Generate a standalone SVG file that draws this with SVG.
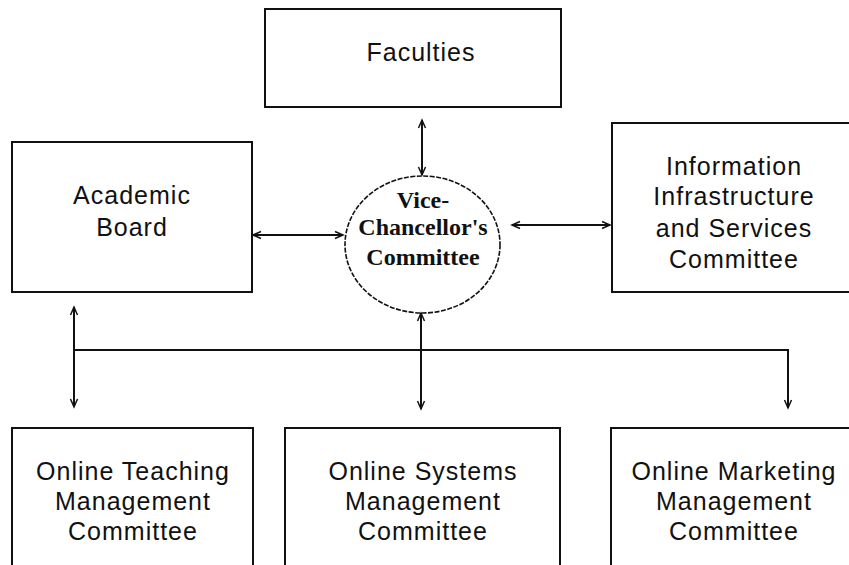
<svg xmlns="http://www.w3.org/2000/svg" width="849" height="565" viewBox="0 0 849 565">
  <style>
    .box { fill: #fff; stroke: #111; stroke-width: 2; }
    .hub { fill: #fff; stroke: #111; stroke-width: 1.6; stroke-dasharray: 5 1.5; }
    .lbl { font-family: "Liberation Sans", Arial, sans-serif; font-size: 25px; letter-spacing: 1px; fill: #111; text-anchor: middle; }
    .hubl { font-family: "Liberation Serif", "Times New Roman", serif; font-size: 24px; font-weight: bold; fill: #111; text-anchor: middle; }
    .wire { fill: none; stroke: #111; stroke-width: 2; }
  </style>
  <defs>
    <marker id="tip" markerUnits="userSpaceOnUse" viewBox="-10 -6 12 12" refX="0" refY="0" markerWidth="12" markerHeight="12" orient="auto-start-reverse">
      <path d="M-8,-3.5 L0,0 L-8,3.5" fill="none" stroke="#111" stroke-width="1.5"/>
    </marker>
  </defs>
  <rect width="849" height="565" fill="#fff"/>

  <g id="faculties">
    <rect class="box" x="265" y="9" width="296" height="98"/>
    <text class="lbl" x="421" y="61">Faculties</text>
  </g>

  <g id="academic-board">
    <rect class="box" x="12" y="142" width="240" height="150"/>
    <text class="lbl" x="132" y="204">Academic</text>
    <text class="lbl" x="132" y="236">Board</text>
  </g>

  <g id="info-infrastructure">
    <rect class="box" x="612" y="123" width="250" height="169"/>
    <text class="lbl" x="734" y="175">Information</text>
    <text class="lbl" x="734" y="205">Infrastructure</text>
    <text class="lbl" x="734" y="237">and Services</text>
    <text class="lbl" x="734" y="268">Committee</text>
  </g>

  <g id="vice-chancellor">
    <ellipse class="hub" cx="422.5" cy="244.5" rx="77.5" ry="68.5"/>
    <text class="hubl" x="423" y="208">Vice-</text>
    <text class="hubl" x="423" y="235">Chancellor's</text>
    <text class="hubl" x="423" y="265">Committee</text>
  </g>

  <g id="online-teaching">
    <rect class="box" x="12" y="428" width="241" height="150"/>
    <text class="lbl" x="133" y="480">Online Teaching</text>
    <text class="lbl" x="133" y="510">Management</text>
    <text class="lbl" x="133" y="540">Committee</text>
  </g>

  <g id="online-systems">
    <rect class="box" x="285" y="428" width="275" height="150"/>
    <text class="lbl" x="423" y="480">Online Systems</text>
    <text class="lbl" x="423" y="510">Management</text>
    <text class="lbl" x="423" y="540">Committee</text>
  </g>

  <g id="online-marketing">
    <rect class="box" x="611" y="428" width="250" height="150"/>
    <text class="lbl" x="734" y="480">Online Marketing</text>
    <text class="lbl" x="734" y="510">Management</text>
    <text class="lbl" x="734" y="540">Committee</text>
  </g>

  <g id="connectors">
    <line class="wire" x1="422" y1="120" x2="422" y2="175" marker-start="url(#tip)" marker-end="url(#tip)"/>
    <line class="wire" x1="253" y1="235" x2="343" y2="235" marker-start="url(#tip)" marker-end="url(#tip)"/>
    <line class="wire" x1="512" y1="225" x2="610" y2="225" marker-start="url(#tip)" marker-end="url(#tip)"/>
    <line class="wire" x1="74" y1="307" x2="74" y2="407" marker-start="url(#tip)" marker-end="url(#tip)"/>
    <line class="wire" x1="421" y1="313" x2="421" y2="409" marker-start="url(#tip)" marker-end="url(#tip)"/>
    <polyline class="wire" points="74,350 788,350 788,408" marker-end="url(#tip)"/>
  </g>
</svg>
